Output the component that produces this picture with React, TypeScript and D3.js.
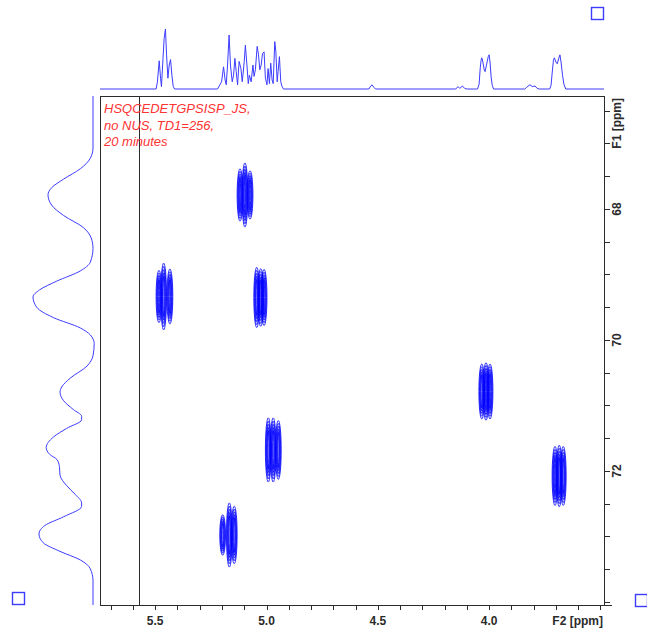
import * as d3 from 'd3';

const W = 647;
const H = 630;
const box = { left: 100, right: 604, top: 96, bottom: 605 };

// axis ranges (ppm)
const f2Range = [5.748, 3.484];
const f1Range = [66.275, 74.046];
const f2Labels = [5.5, 5.0, 4.5, 4.0];
const f1Labels = [68, 70, 72];

const titleLines = ['HSQCEDETGPSISP_JS,', 'no NUS, TD1=256,', '20 minutes'];

// 1H trace on top: [ppm, % intensity]
const topTrace: [number, number][] = [
  [5.748, 0], [5.496, 0], [5.49, 12], [5.482, 47], [5.476, 18], [5.472, 4], [5.465, 51],
  [5.46, 84], [5.454, 100], [5.449, 57], [5.443, 18], [5.437, 40], [5.431, 49], [5.425, 23],
  [5.419, 4], [5.413, 0],
  [5.22, 0], [5.202, 12], [5.193, 37], [5.186, 15], [5.181, 7], [5.175, 40], [5.168, 90],
  [5.162, 40], [5.154, 12], [5.148, 23], [5.142, 51], [5.136, 29], [5.13, 7], [5.123, 46],
  [5.115, 34], [5.109, 12], [5.1, 46], [5.095, 73], [5.088, 40], [5.082, 9], [5.077, 23],
  [5.069, 12], [5.061, 40], [5.056, 21], [5.05, 32], [5.042, 71], [5.036, 57], [5.03, 32],
  [5.024, 40], [5.018, 59], [5.011, 62], [5.005, 18], [4.998, 7], [4.993, 34], [4.987, 9],
  [4.981, 43], [4.975, 15], [4.97, 9], [4.963, 79], [4.958, 62], [4.952, 12], [4.948, 29],
  [4.942, 54], [4.936, 12], [4.93, 4], [4.924, 0],
  [4.54, 0], [4.532, 5], [4.526, 7], [4.518, 3], [4.51, 0],
  [4.15, 0], [4.14, 4], [4.132, 1], [4.12, 5], [4.11, 1], [4.1, 0],
  [4.052, 0], [4.045, 8], [4.04, 35], [4.036, 48], [4.033, 52], [4.028, 45], [4.022, 32],
  [4.018, 29], [4.012, 40], [4.004, 54], [4.0, 57], [3.996, 45], [3.991, 20], [3.986, 6],
  [3.98, 0],
  [3.84, 0], [3.831, 3], [3.817, 7], [3.806, 4], [3.794, 5], [3.784, 1], [3.775, 0],
  [3.728, 0], [3.722, 6], [3.716, 30], [3.711, 48], [3.707, 52], [3.7, 45], [3.694, 42],
  [3.688, 50], [3.682, 57], [3.677, 45], [3.67, 22], [3.664, 8], [3.656, 0], [3.484, 0],
];

// 13C projection on the left: [ppm, % intensity]
const sideTrace: [number, number][] = [
  [66.275, 0], [67.069, 0], [67.226, 4.5], [67.385, 21], [67.544, 49], [67.676, 69],
  [67.782, 75], [67.94, 69], [68.099, 49], [68.284, 16], [68.443, 3], [68.602, 0],
  [68.812, 4.5], [68.945, 21], [69.104, 61], [69.235, 89], [69.342, 100], [69.499, 94],
  [69.658, 66], [69.817, 21], [69.922, 4.5], [70.055, -2], [70.24, 0], [70.398, 10],
  [70.583, 38], [70.716, 52], [70.795, 55], [70.927, 49], [71.06, 33], [71.165, 19],
  [71.218, 19], [71.35, 44], [71.482, 66], [71.641, 78], [71.747, 72], [71.826, 60],
  [71.931, 56], [72.064, 55], [72.223, 44], [72.354, 30], [72.487, 19], [72.54, 19],
  [72.699, 49], [72.831, 80], [72.963, 90], [73.095, 83], [73.227, 55], [73.359, 21],
  [73.492, 4.5], [73.676, 0], [74.046, 0],
];

// HSQC cross peaks: F1 centre, F2 of each multiplet strand, half height (ppm) of each strand
const crossPeaks = [
  { f1: 69.336, f2: [5.483, 5.462, 5.434], half: [0.4, 0.51, 0.42] },
  { f1: 67.786, f2: [5.119, 5.097, 5.074], half: [0.4, 0.49, 0.37] },
  { f1: 69.351, f2: [5.044, 5.026, 5.011], half: [0.46, 0.44, 0.43] },
  { f1: 71.679, f2: [4.992, 4.97, 4.947], half: [0.49, 0.49, 0.45] },
  { f1: 72.977, f2: [5.197, 5.167, 5.145], half: [0.31, 0.49, 0.44] },
  { f1: 70.786, f2: [4.033, 4.014, 3.996], half: [0.42, 0.44, 0.42] },
  { f1: 72.076, f2: [3.704, 3.685, 3.667], half: [0.45, 0.47, 0.45] },
];
const strandHalfWidth = 0.013;
const contourLevels = [1, 0.8, 0.6, 0.4, 0.2];

export default function App() {
  const x = d3.scaleLinear().domain(f2Range).range([box.left, box.right]);
  const y = d3.scaleLinear().domain(f1Range).range([box.top, box.bottom]);
  const topY = d3.scaleLinear().domain([0, 100]).range([89, 29]);
  const sideX = d3.scaleLinear().domain([0, 100]).range([93, 33]);

  const topLine = d3.line<[number, number]>().x(d => x(d[0])).y(d => topY(d[1]))(topTrace) || '';
  const sideLine = d3.line<[number, number]>()
    .x(d => sideX(d[1]))
    .y(d => y(d[0]))
    .curve(d3.curveMonotoneY)(sideTrace) || '';

  const f2Ticks = x.ticks(22);
  const f1Ticks = y.ticks(15);
  const axisColor = '#2b2b2b';
  const font = '"Liberation Sans", Arial, sans-serif';
  const blue = '#3c3cff';

  return (
    <svg width={W} height={H} style={{ position: 'absolute', left: 0, top: 0 }} fontFamily={font}>
      <rect width={W} height={H} fill="#fff" />

      {/* top 1D trace */}
      <path d={topLine} fill="none" stroke={blue} strokeWidth={1} />
      {/* left projection */}
      <path d={sideLine} fill="none" stroke={blue} strokeWidth={1} />

      {/* cross peaks */}
      <g fill="none" stroke="#0000ff" strokeWidth={0.8}>
        {crossPeaks.map((p, i) =>
          p.f2.map((f2, j) => {
            const cx = x(f2);
            const cy = y(p.f1);
            const rx = Math.abs(x(0) - x(strandHalfWidth));
            const ry = Math.abs(y(p.f1 + p.half[j]) - cy);
            return contourLevels.map((k, n) => (
              <ellipse key={`${i}-${j}-${n}`} cx={cx} cy={cy} rx={rx * k} ry={ry * (0.5 + 0.5 * k)} />
            ));
          })
        )}
      </g>

      {/* plot frame */}
      <rect x={box.left + 0.5} y={box.top + 0.5} width={box.right - box.left} height={box.bottom - box.top}
        fill="none" stroke={axisColor} strokeWidth={1} />
      <line x1={139.5} x2={139.5} y1={box.top} y2={box.bottom} stroke={axisColor} strokeWidth={1} />

      {/* F2 axis */}
      <g stroke={axisColor} strokeWidth={1}>
        {f2Ticks.map(t => (
          <line key={t} x1={Math.round(x(t)) + 0.5} x2={Math.round(x(t)) + 0.5} y1={box.bottom} y2={box.bottom + 5} />
        ))}
      </g>
      <g fontSize={12} fontWeight="bold" fill={axisColor} textAnchor="middle">
        {f2Labels.map(t => (
          <text key={t} x={x(t)} y={625}>{t.toFixed(1)}</text>
        ))}
        <text x={603} y={625} textAnchor="end">F2 [ppm]</text>
      </g>

      {/* F1 axis */}
      <g stroke={axisColor} strokeWidth={1}>
        {f1Ticks.map(t => (
          <line key={t} x1={box.right} x2={box.right + 6} y1={Math.round(y(t)) + 0.5} y2={Math.round(y(t)) + 0.5} />
        ))}
        <line x1={box.right} x2={box.right + 8} y1={box.bottom + 0.5} y2={box.bottom + 0.5} />
      </g>
      <g fontSize={12} fontWeight="bold" fill={axisColor} textAnchor="middle">
        {f1Labels.map(t => (
          <text key={t} transform={`translate(621,${y(t)}) rotate(-90)`}>{t}</text>
        ))}
        <text transform={`translate(621,${box.top + 2}) rotate(-90)`} textAnchor="end">F1 [ppm]</text>
      </g>

      {/* experiment label */}
      <g fill="#ff3333" fontSize={13} fontStyle="italic">
        {titleLines.map((s, i) => (
          <text key={s} x={104} y={113 + i * 16.5}>{s}</text>
        ))}
      </g>

      {/* little squares */}
      <g fill="none" stroke={blue} strokeWidth={1.4}>
        <rect x={591.5} y={7.5} width={12} height={12} />
        <rect x={12.5} y={592.5} width={12} height={12} />
        <rect x={635.5} y={594.5} width={12} height={12} />
      </g>
    </svg>
  );
}
